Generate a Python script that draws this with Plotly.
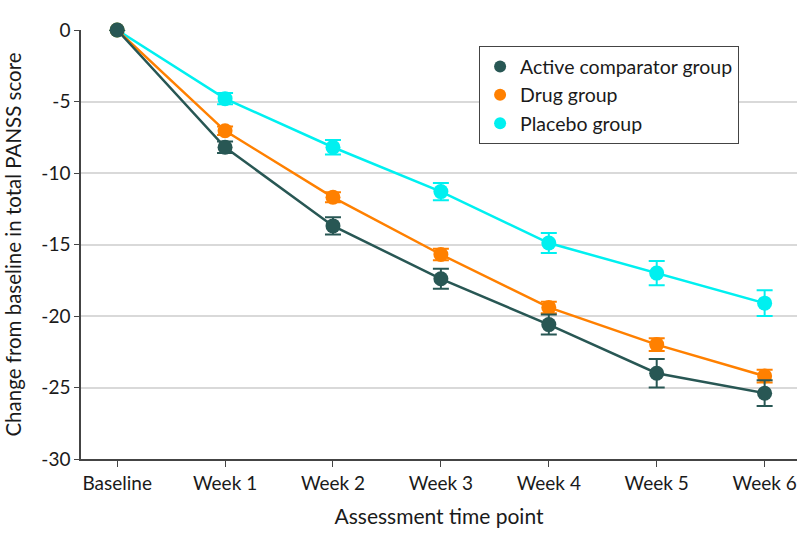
import plotly.graph_objects as go

categories = ["Baseline", "Week 1", "Week 2", "Week 3", "Week 4", "Week 5", "Week 6"]
active = [0, -8.2, -13.7, -17.4, -20.6, -24.0, -25.4]
active_err = [0, 0.4, 0.6, 0.7, 0.7, 1.0, 0.9]
drug = [0, -7.05, -11.7, -15.7, -19.4, -22.0, -24.2]
drug_err = [0, 0.3, 0.35, 0.4, 0.4, 0.45, 0.45]
placebo = [0, -4.8, -8.2, -11.3, -14.9, -17.0, -19.1]
placebo_err = [0, 0.4, 0.5, 0.6, 0.7, 0.85, 0.9]

series = [
    ("Active comparator group", active, active_err, "#285754"),
    ("Drug group", drug, drug_err, "#ff8000"),
    ("Placebo group", placebo, placebo_err, "#00f0f0"),
]

FONT = "Lato, sans-serif"
xs = list(range(len(categories)))

fig = go.Figure()
for name, vals, errs, col in series[::-1]:
    fig.add_trace(go.Scatter(
        x=xs, y=vals, name=name, mode="lines+markers", showlegend=False,
        line=dict(color=col, width=2.5),
        marker=dict(color=col, size=15),
        error_y=dict(type="data", array=errs, color=col, width=8, thickness=2),
        cliponaxis=False,
    ))
for name, vals, errs, col in series:
    fig.add_trace(go.Scatter(
        x=[None], y=[None], name=name, mode="markers",
        marker=dict(color=col, size=15), showlegend=True,
    ))

fig.update_layout(
    width=798, height=545,
    margin=dict(l=81, r=1, t=30, b=86),
    paper_bgcolor="white", plot_bgcolor="white",
    font=dict(family=FONT, size=19, color="#1a1a1a"),
    showlegend=True,
    legend=dict(
        x=0.556, y=0.962, xanchor="left", yanchor="top",
        bordercolor="#444444", borderwidth=1, bgcolor="white",
        font=dict(family=FONT, size=19.5), tracegroupgap=0,
        itemsizing="constant",
    ),
    xaxis=dict(
        range=[-0.335, 6.3], tickmode="array", tickvals=xs, ticktext=categories,
        showline=True, linecolor="#444444", linewidth=1.5,
        ticks="outside", ticklen=6, tickcolor="#444444", showgrid=False,
        zeroline=False, automargin=False,
        title=dict(text="Assessment time point", standoff=17,
                   font=dict(family=FONT, size=21, color="#1a1a1a")),
    ),
    yaxis=dict(
        range=[-30, 0], tickvals=[0, -5, -10, -15, -20, -25, -30],
        ticktext=["0", "-5", "-10", "-15", "-20", "-25", "-30"],
        showline=True, linecolor="#444444", linewidth=1.5,
        ticks="outside", ticklen=5, tickcolor="#444444",
        showgrid=True, gridcolor="#d9d9d9", gridwidth=1.5, zeroline=False,
        automargin=False,
        title=dict(text="Change from baseline in total PANSS score", standoff=14,
                   font=dict(family=FONT, size=20.5, color="#1a1a1a")),
    ),
)

fig.write_html(
    "out.html",
    config={"displayModeBar": False},
    post_script="document.body.style.margin='0';document.body.style.overflow='hidden';",
)
